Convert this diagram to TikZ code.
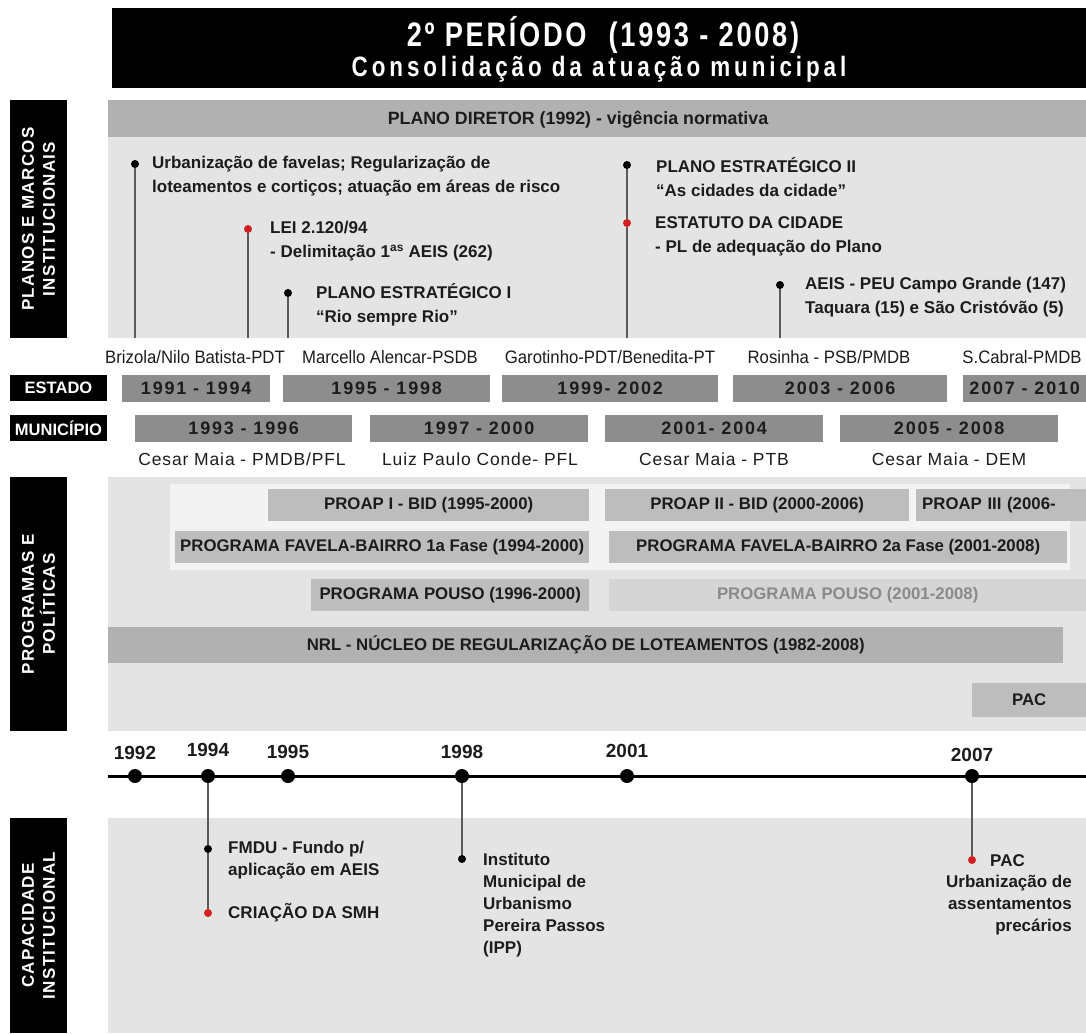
\documentclass[tikz,border=0pt]{standalone}
\usepackage{fontspec}
\setmainfont{Liberation Sans}
\newfontfamily\titlefont{Liberation Sans}[FakeStretch=0.8,LetterSpace=8]
\newfontfamily\subtitlefont{Liberation Sans}[FakeStretch=0.8,LetterSpace=14]
\newfontfamily\trackfont{Liberation Sans}[LetterSpace=8]
\newfontfamily\yearfont{Liberation Sans}[LetterSpace=10]
\newfontfamily\airyfont{Liberation Sans}[LetterSpace=5]
\newfontfamily\narrowfont{Liberation Sans}[FakeStretch=0.93]
\usetikzlibrary{positioning}
\newcommand{\fsz}[2]{\fontsize{#1}{#2}\selectfont}
\definecolor{bandgray}{HTML}{E4E4E4}
\definecolor{palegray}{HTML}{F3F3F3}
\definecolor{bargray}{HTML}{BDBDBD}
\definecolor{darkbar}{HTML}{B1B1B1}
\definecolor{yeargray}{HTML}{8D8D8D}
\definecolor{fadebar}{HTML}{D5D5D5}
\definecolor{fadetext}{HTML}{8A8A8A}
\definecolor{inkgray}{HTML}{1C1C1C}
\definecolor{markred}{HTML}{D21F1F}
\definecolor{stemgray}{HTML}{5A5A5A}

\begin{document}
\begin{tikzpicture}[x=1pt,y=-1pt,
    sectlabel/.style={fill=black, text=white, rotate=90, inner sep=0, minimum height=57,
        align=center, font=\trackfont\bfseries\fsz{17}{21}},
    rowlabel/.style={fill=black, text=white, inner sep=0, minimum width=97, minimum height=26,
        font=\bfseries\fsz{16.5}{19}},
    yearbar/.style={fill=yeargray, text=inkgray, anchor=north west, inner sep=0, minimum height=27,
        font=\yearfont\bfseries\fsz{18}{20}},
    progbar/.style={fill=bargray, text=inkgray, anchor=north west, inner sep=0, minimum height=32,
        font=\bfseries\fsz{16.8}{20}},
    item/.style={anchor=west, inner sep=0, align=left, text=inkgray, font=\bfseries\fsz{17}{24}},
    dot/.style={circle, fill=black, inner sep=0, minimum size=8},
    reddot/.style={dot, fill=markred},
    tdot/.style={circle, fill=black, inner sep=0, minimum size=14},
    stem/.style={stemgray, line width=1.5pt},
    gov/.style={inner sep=0, text=inkgray, font=\narrowfont\fsz{18}{20}},
    mayor/.style={inner sep=0, text=inkgray, font=\airyfont\fsz{17.5}{20}},
    yr/.style={inner sep=0, text=inkgray, font=\bfseries\fsz{19}{22}}]

    \useasboundingbox (0,0) rectangle (1086,1033);

    % Title
    \node[fill=black, anchor=north west, minimum width=974, minimum height=80, inner sep=0] (title) at (112,8) {};
    \node[text=white, font=\titlefont\bfseries\fsz{34}{38}] (title1) at (603,35) {2º PERÍODO\hspace{22pt}(1993 - 2008)};
    \node[text=white, font=\subtitlefont\bfseries\fsz{28}{32}] (title2) at (599,69) {Consolidação da atuação municipal};

    % Section backgrounds
    \fill[bandgray] (108,137) rectangle (1086,338);
    \fill[bandgray] (108,477) rectangle (1086,731);
    \fill[bandgray] (108,818) rectangle (1086,1033);
    \fill[palegray] (170,484) rectangle (1070,570);

    % Section labels
    \node[sectlabel, minimum width=238] (lplanos) at (38.5,219) {PLANOS E MARCOS\\INSTITUCIONAIS};
    \node[sectlabel, minimum width=254] (lprog) at (38.5,604) {PROGRAMAS E\\POLÍTICAS};
    \node[sectlabel, minimum width=215] (lcap) at (38.5,925.5) {CAPACIDADE\\INSTITUCIONAL};
    \node[rowlabel] (lestado) at (58.5,388) {ESTADO};
    \node[rowlabel] (lmunic) at (58.5,428) {MUNICÍPIO};

    % Plano diretor
    \node[fill=darkbar, anchor=north west, minimum width=978, minimum height=37, inner sep=0] (pdiretor) at (108,100) {};
    \node[text=inkgray, font=\bfseries\fsz{17.8}{20}] (pdtext) at (578,120) {PLANO DIRETOR (1992) - vigência normativa};

    % Planos e marcos
    \node[dot] (dUrb) at (135,164) {};
    \node[reddot] (dLei) at (248,229) {};
    \node[dot] (dPe1) at (288,293) {};
    \node[dot] (dPe2) at (627,165) {};
    \node[reddot] (dEst) at (627,223) {};
    \node[dot] (dAeis) at (780,285) {};
    \coordinate (eUrb) at (135,338);
    \coordinate (eLei) at (248,338);
    \coordinate (ePe1) at (288,338);
    \coordinate (ePe2) at (627,338);
    \coordinate (eAeis) at (780,338);
    \draw[stem] (dUrb) -- (eUrb);
    \draw[stem] (dLei) -- (eLei);
    \draw[stem] (dPe1) -- (ePe1);
    \draw[stem] (dPe2) -- (dEst);
    \draw[stem] (dEst) -- (ePe2);
    \draw[stem] (dAeis) -- (eAeis);

    \node[item] (tUrb) at (152,176) {Urbanização de favelas; Regularização de\\loteamentos e cortiços; atuação em áreas de risco};
    \node[item] (tLei) at (270,241) {LEI 2.120/94\\- Delimitação 1\textsuperscript{as} AEIS (262)};
    \node[item] (tPe1) at (316,305) {PLANO ESTRATÉGICO I\\“Rio sempre Rio”};
    \node[item] (tPe2) at (656,177) {PLANO ESTRATÉGICO II\\“As cidades da cidade”};
    \node[item] (tEst) at (655,236) {ESTATUTO DA CIDADE\\- PL de adequação do Plano};
    \node[item] (tAeis) at (805,297) {AEIS - PEU Campo Grande (147)\\Taquara (15) e São Cristóvão (5)};

    % Governos
    \node[gov] (g1) at (195,357) {Brizola/Nilo Batista-PDT};
    \node[gov] (g2) at (390,357) {Marcello Alencar-PSDB};
    \node[gov] (g3) at (610,357) {Garotinho-PDT/Benedita-PT};
    \node[gov] (g4) at (829,357) {Rosinha - PSB/PMDB};
    \node[gov] (g5) at (1022,357) {S.Cabral-PMDB};

    \node[yearbar, minimum width=148] (e1) at (122,375) {1991 - 1994};
    \node[yearbar, minimum width=207] (e2) at (283,375) {1995 - 1998};
    \node[yearbar, minimum width=216] (e3) at (502,375) {1999- 2002};
    \node[yearbar, minimum width=214] (e4) at (733,375) {2003 - 2006};
    \node[yearbar, minimum width=123] (e5) at (963,375) {2007 - 2010};

    \node[yearbar, minimum width=217] (m1) at (135,415) {1993 - 1996};
    \node[yearbar, minimum width=218] (m2) at (370,415) {1997 - 2000};
    \node[yearbar, minimum width=218] (m3) at (605,415) {2001- 2004};
    \node[yearbar, minimum width=218] (m4) at (840,415) {2005 - 2008};

    \node[mayor] (p1) at (242,459) {Cesar Maia - PMDB/PFL};
    \node[mayor] (p2) at (480,459) {Luiz Paulo Conde- PFL};
    \node[mayor] (p3) at (714,459) {Cesar Maia - PTB};
    \node[mayor] (p4) at (949,459) {Cesar Maia - DEM};

    % Programas e politicas
    \node[progbar, minimum width=321] (proap1) at (268,489) {PROAP I - BID (1995-2000)};
    \node[progbar, minimum width=304] (proap2) at (605,489) {PROAP II - BID (2000-2006)};
    \node[progbar, minimum width=170, text width=158, inner xsep=6, align=left] (proap3) at (916,489) {PROAP III (2006-};
    \node[progbar, minimum width=414] (fb1) at (175,531) {PROGRAMA FAVELA-BAIRRO 1a Fase (1994-2000)};
    \node[progbar, minimum width=458] (fb2) at (609,531) {PROGRAMA FAVELA-BAIRRO 2a Fase (2001-2008)};
    \node[progbar, minimum width=278] (pouso1) at (311,579) {PROGRAMA POUSO (1996-2000)};
    \node[progbar, minimum width=477, fill=fadebar, text=fadetext] (pouso2) at (609,579) {PROGRAMA POUSO (2001-2008)};
    \node[progbar, minimum width=955, minimum height=36, fill=darkbar] (nrl) at (108,627) {NRL - NÚCLEO DE REGULARIZAÇÃO DE LOTEAMENTOS (1982-2008)};
    \node[progbar, minimum width=114, minimum height=34] (pac) at (972,683) {PAC};

    % Linha do tempo
    \coordinate (tlL) at (108,776);
    \coordinate (tlR) at (1086,776);
    \draw[line width=3pt] (tlL) -- (tlR);
    \node[tdot] (t1992) at (135,776) {};
    \node[tdot] (t1994) at (208,776) {};
    \node[tdot] (t1995) at (288,776) {};
    \node[tdot] (t1998) at (462,776) {};
    \node[tdot] (t2001) at (627,776) {};
    \node[tdot] (t2007) at (972,776) {};
    \node[yr] (y1992) at (135,753) {1992};
    \node[yr] (y1994) at (208,750) {1994};
    \node[yr] (y1995) at (288,752) {1995};
    \node[yr] (y1998) at (462,752) {1998};
    \node[yr] (y2001) at (627,751) {2001};
    \node[yr] (y2007) at (972,755) {2007};

    % Capacidade institucional
    \node[dot] (dFmdu) at (208,849) {};
    \node[reddot] (dSmh) at (208,913) {};
    \node[dot] (dIpp) at (462,859) {};
    \node[reddot] (dPac) at (972,860) {};
    \draw[stem] (t1994) -- (dFmdu);
    \draw[stem] (dFmdu) -- (dSmh);
    \draw[stem] (t1998) -- (dIpp);
    \draw[stem] (t2007) -- (dPac);

    \node[item, font=\bfseries\fsz{17}{22}] (tFmdu) at (228,860) {FMDU - Fundo p/\\aplicação em AEIS};
    \node[item] (tSmh) at (228,913) {CRIAÇÃO DA SMH};
    \node[item, font=\bfseries\fsz{17}{22}] (tIpp) at (483,905) {Instituto\\Municipal de\\Urbanismo\\Pereira Passos\\(IPP)};
    \node[item] (tPac) at (990,861) {PAC};
    \node[item, anchor=east, align=right, font=\bfseries\fsz{17}{22}] (tPacd) at (1072,905) {Urbanização de\\assentamentos\\precários};
\end{tikzpicture}
\end{document}
